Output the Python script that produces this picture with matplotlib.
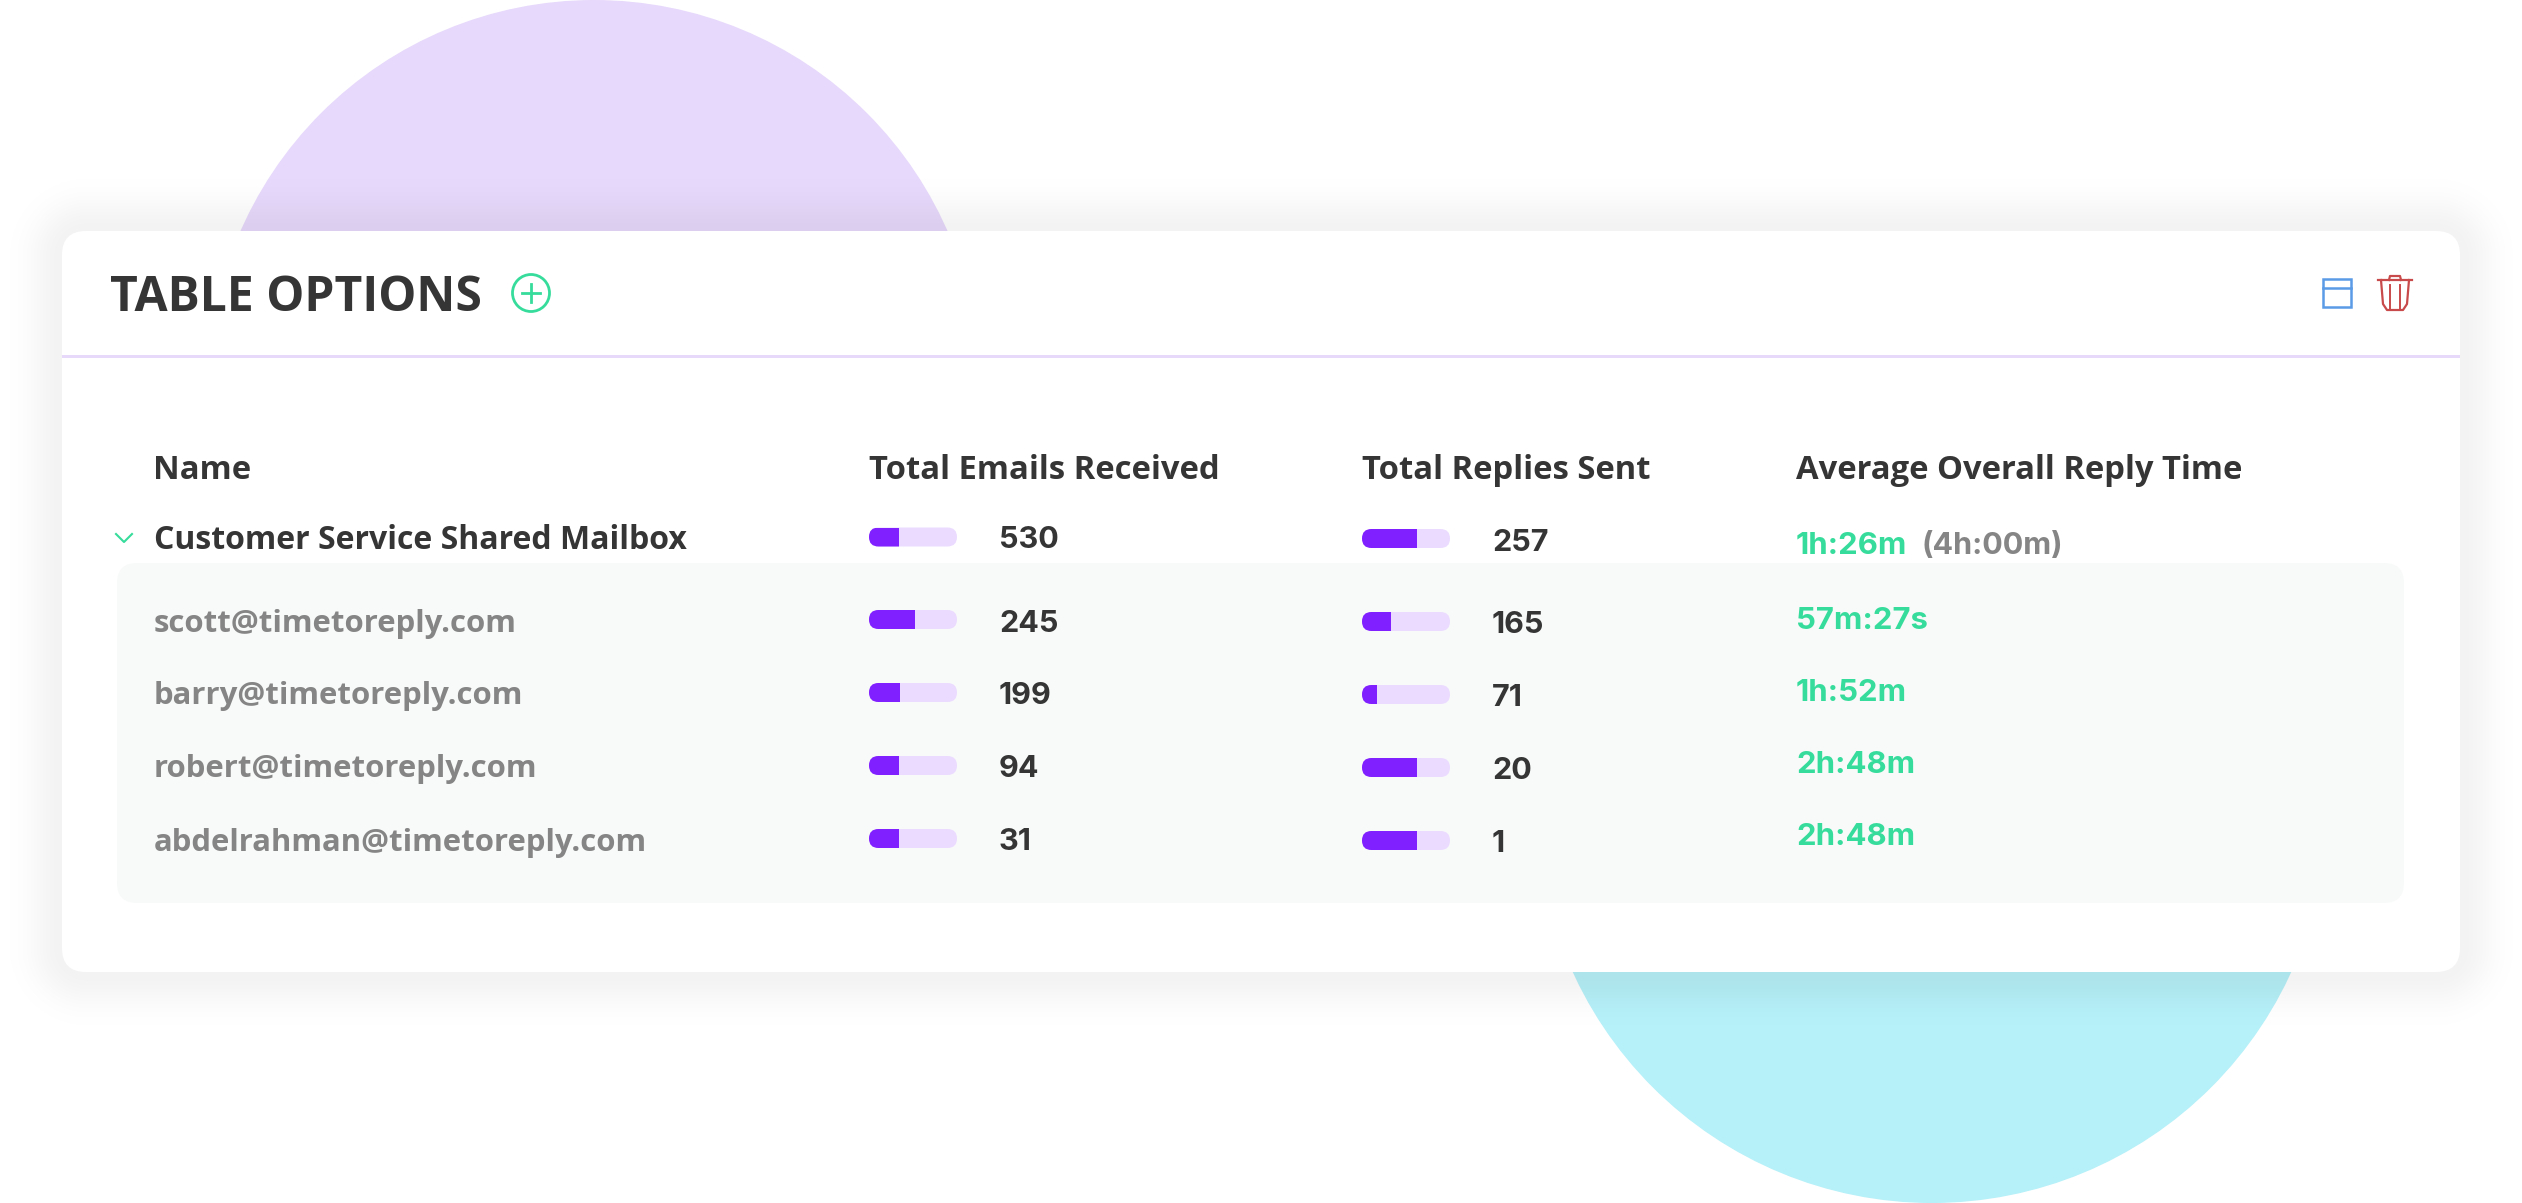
import numpy as np
import matplotlib
matplotlib.use("Agg")
import matplotlib.pyplot as plt
from matplotlib.patches import Circle, FancyBboxPatch, Rectangle

plt.rcParams['font.family'] = ['Open Sans', 'DejaVu Sans']

# table content
columns = ["Name", "Total Emails Received", "Total Replies Sent", "Average Overall Reply Time"]
mailbox = "Customer Service Shared Mailbox"
names = ["scott@timetoreply.com", "barry@timetoreply.com", "robert@timetoreply.com", "abdelrahman@timetoreply.com"]
received = [530, 245, 199, 94, 31]
replies = [257, 165, 71, 20, 1]
reply_time = ["1h:26m", "57m:27s", "1h:52m", "2h:48m", "2h:48m"]
target_time = "(4h:00m)"

# share of each little progress bar that is filled
received_fill = [0.34, 0.52, 0.35, 0.34, 0.34]
replies_fill = [0.625, 0.33, 0.17, 0.625, 0.625]

DARK = "#353535"
GREY = "#858585"
GREEN = "#36dc9b"
PURPLE = "#801fff"
PALE = "#ebdcff"
NUM_FONT = ['Inter', 'DejaVu Sans']

W, H = 2522, 1203
fig = plt.figure(figsize=(W / 100, H / 100), dpi=100)
ax = fig.add_axes([0, 0, 1, 1])
ax.set_xlim(0, W)
ax.set_ylim(H, 0)
ax.axis("off")

# background circles
ax.add_patch(Circle((594, 386), 386, fc="#e7d9fb", ec="none", zorder=1))
ax.add_patch(Circle((1932, 808), 395, fc="#b6f0f8", ec="none", zorder=1))

# soft card shadow, falls off with distance from the rounded card
CX0, CX1, CY0, CY1 = 62, 2460, 231, 972
yy, xx = np.mgrid[0:H, 0:W]
r = 24
dx = np.maximum(np.maximum(CX0 + r - xx, xx - (CX1 - r)), 0)
dy = np.maximum(np.maximum(CY0 + r - yy, yy - (CY1 - r)), 0)
dist = np.maximum(np.hypot(dx, dy) - r, 0)
rgba = np.zeros((H, W, 4))
rgba[..., 3] = 0.05 * np.exp(-(dist / 33.0) ** 2)
ax.imshow(rgba, extent=(0, W, H, 0), zorder=2, aspect="auto", interpolation="nearest")
ax.set_xlim(0, W)
ax.set_ylim(H, 0)


def rounded(x0, y0, x1, y1, rad, **kw):
    p = FancyBboxPatch((x0 + rad, y0 + rad), x1 - x0 - 2 * rad, y1 - y0 - 2 * rad,
                       boxstyle=f"round,pad={rad},rounding_size={rad}", ec="none", **kw)
    ax.add_patch(p)
    return p


rounded(CX0, CY0, CX1, CY1, r, fc="white", zorder=3)
ax.add_patch(Rectangle((CX0, 355), CX1 - CX0, 3, fc="#e6d9fa", ec="none", zorder=4))
rounded(117, 563, 2404, 903, 20, fc="#f8f9f9", zorder=4)

# header
ax.text(110, 311, "TABLE OPTIONS", fontsize=34.6, fontweight="bold", color=DARK, va="baseline", zorder=6)
ax.add_patch(Circle((531, 293), 18.5, fc="none", ec=GREEN, lw=2, zorder=6))
ax.plot([522, 540], [293, 293], color=GREEN, lw=2, zorder=6)
ax.plot([531, 531], [284, 302], color=GREEN, lw=2, zorder=6)

# layout and delete icons
ax.add_patch(Rectangle((2323, 279), 28, 28, fc="none", ec="#5b9be6", lw=1.8, zorder=6))
ax.plot([2323, 2351], [288, 288], color="#5b9be6", lw=1.8, zorder=6)
RED = "#c94a4a"
ax.plot([2378, 2412], [280, 280], color=RED, lw=1.6, zorder=6)
ax.plot([2381, 2383, 2387, 2403, 2407, 2409], [280, 304, 310, 310, 304, 280], color=RED, lw=1.6, zorder=6)
ax.plot([2389, 2390, 2400, 2401], [280, 276, 276, 280], color=RED, lw=1.6, zorder=6)
ax.plot([2390, 2390], [285, 310], color=RED, lw=1.4, zorder=6)
ax.plot([2400, 2400], [285, 310], color=RED, lw=1.4, zorder=6)

# chevron
ax.plot([116, 124, 132], [534, 542, 534], color=GREEN, lw=1.5, zorder=6)

# column headers
COL_X = [153, 869, 1362, 1796]
for cx, label in zip(COL_X, columns):
    ax.text(cx, 479, label, fontsize=23.6, fontweight="bold", color=DARK, va="baseline", zorder=6)

# row names
name_base = [549, 632, 704, 777, 851]
ax.text(154, name_base[0], mailbox, fontsize=23, fontweight="bold", color=DARK, va="baseline", zorder=6)
for by, n in zip(name_base[1:], names):
    ax.text(154, by, n, fontsize=22.4, fontweight="bold", color=GREY, va="baseline", zorder=6)


def progress(x0, centre, frac):
    track = rounded(x0, centre - 9.5, x0 + 88, centre + 9.5, 9.5, fc=PALE, zorder=5)
    bar = ax.barh(centre, frac * 88, height=19, left=x0, color=PURPLE, zorder=6)[0]
    bar.set_clip_path(track)


recv_centre = [537, 619.5, 692.5, 765.5, 838.5]
recv_base = [548, 632, 704, 777, 850]
for c, b, v, f in zip(recv_centre, recv_base, received, received_fill):
    progress(869, c, f)
    ax.text(999, b, str(v), fontsize=22, fontweight="bold", family=NUM_FONT, color=DARK, va="baseline", zorder=6)

repl_centre = [538.5, 621.5, 694.5, 767.5, 840.5]
repl_base = [551, 633, 706, 779, 852]
for c, b, v, f in zip(repl_centre, repl_base, replies, replies_fill):
    progress(1362, c, f)
    ax.text(1492, b, str(v), fontsize=22, fontweight="bold", family=NUM_FONT, color=DARK, va="baseline", zorder=6)

# reply times
time_base = [554, 629, 701, 773, 845]
for b, t in zip(time_base, reply_time):
    ax.text(1796, b, t, fontsize=22.4, fontweight="bold", family=NUM_FONT, color=GREEN, va="baseline", zorder=6)
ax.text(1921, time_base[0], target_time, fontsize=22, fontweight="bold", family=NUM_FONT, color=GREY, va="baseline", zorder=6)

fig.savefig("out.png", dpi=100)
